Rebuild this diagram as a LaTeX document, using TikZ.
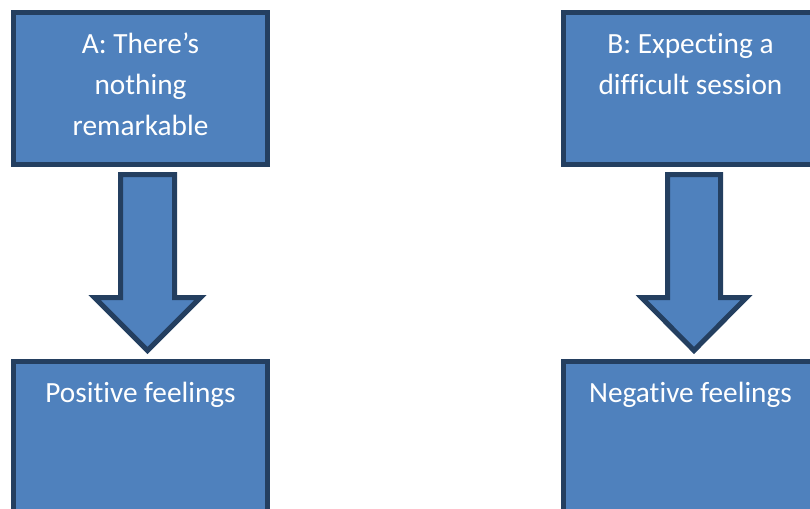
\documentclass[tikz,border=0pt]{standalone}
\usepackage{fontspec}
\setmainfont[Ligatures=NoCommon]{Carlito}
\definecolor{boxfill}{HTML}{4F81BD}
\definecolor{boxline}{HTML}{243F60}
\begin{document}
\begin{tikzpicture}[x=1pt,y=-1pt,
  box/.style={draw=boxline,fill=boxfill,line width=5pt,outer sep=0pt,inner sep=0pt,
    minimum width=254pt},
  topbox/.style={box,minimum height=152pt},
  botbox/.style={box,minimum height=170pt},
  lbl/.style={anchor=north,inner sep=0pt,text=white,align=center,
    font=\fontsize{29.3}{41}\selectfont},
  blockarrow/.style={draw=boxline,fill=boxfill,line width=5pt,line join=miter}]
\path[use as bounding box,clip] (0,0) rectangle (810,508);
% boxes
\node[topbox] (a) at (140.5,88.5) {};
\node[topbox] (b) at (690.5,88.5) {};
\node[botbox] (c) at (140.5,446.5) {};
\node[botbox] (d) at (690.5,446.5) {};
% texts
\node[lbl] (ta) at ([yshift=-11.8pt]a.north) {\strut A: There’s\\\strut nothing\\\strut remarkable};
\node[lbl] (tb) at ([yshift=-11.8pt]b.north) {\strut B: Expecting a\\\strut difficult session};
\node[lbl] (tc) at ([yshift=-11.8pt]c.north) {\strut Positive feelings};
\node[lbl] (td) at ([yshift=-11.8pt]d.north) {\strut Negative feelings};
% block arrows
\draw[blockarrow] (120.5,174.5) -- (174.5,174.5) -- (174.5,297.5) -- (200.5,297.5)
  -- (147.5,350.5) -- (94.5,297.5) -- (120.5,297.5) -- cycle;
\draw[blockarrow] (667.5,174.5) -- (720.5,174.5) -- (720.5,297.5) -- (746.5,297.5)
  -- (694,350.5) -- (641.5,297.5) -- (667.5,297.5) -- cycle;
\end{tikzpicture}
\end{document}
